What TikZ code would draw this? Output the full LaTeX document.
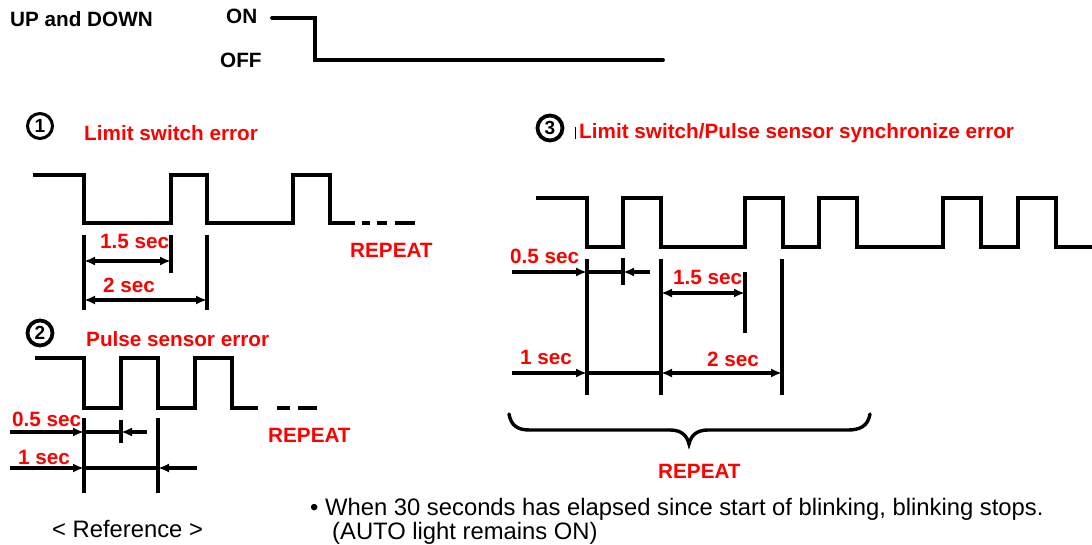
\documentclass[tikz,border=0pt]{standalone}
\usepackage{fontspec}
\setmainfont{Liberation Sans}
\usetikzlibrary{arrows.meta}
\definecolor{errred}{RGB}{255,0,0}
\begin{document}
\begin{tikzpicture}[x=1pt,y=-1pt,
  wave/.style={line width=3.8pt, line join=miter},
  dimline/.style={line width=3.4pt},
  ext/.style={line width=3.8pt},
  tipA/.style={line width=3.4pt, -{Latex[length=11pt,width=9pt]}},
  tipB/.style={line width=3.4pt, {Latex[length=11pt,width=9pt]}-{Latex[length=11pt,width=9pt]}},
  lbl/.style={inner sep=0pt, anchor=base west, font=\fontsize{20.7}{24}\bfseries\selectfont},
  redlbl/.style={lbl, text=errred},
  note/.style={inner sep=0pt, anchor=base west, font=\fontsize{23.8}{28}\selectfont},
  num/.style={circle, draw, line width=3pt, minimum size=25pt, inner sep=0pt, font=\fontsize{19}{19}\bfseries\selectfont}
]
\useasboundingbox (0,0) rectangle (1092,545);

% ---------- top ----------
\node[lbl] (updown) at (10,27) {UP and DOWN};
\node[lbl] (on) at (226,24) {ON};
\node[lbl] (off) at (220,68) {OFF};
\draw[wave, line cap=round] (272,18) -- (315,18) -- (315,60) -- (663,60);

% ---------- 1 ----------
\node[num] (n1) at (40,126) {1};
\node[redlbl] (t1) at (84,141) {Limit switch error};
\draw[wave] (33,175) -- (84,175) -- (84,223) -- (171,223) -- (171,175) -- (207,175)
  -- (207,223) -- (293,223) -- (293,175) -- (330,175) -- (330,223) -- (355,223);
\draw[wave] (362,223) -- (370,223);
\draw[wave] (377,223) -- (387,223);
\draw[wave] (395,223) -- (415,223);
\node[redlbl] (r1) at (350,258) {REPEAT};
\draw[ext] (84,235) -- (84,310);
\draw[ext] (171,235) -- (171,273);
\draw[ext] (207,235) -- (207,310);
\coordinate (a1l) at (84,261); \coordinate (a1r) at (171,261);
\coordinate (b1l) at (84,300); \coordinate (b1r) at (207,300);
\draw[tipB] (a1l) -- (a1r);
\draw[tipB] (b1l) -- (b1r);
\node[redlbl] (s15) at (100,249) {1.5 sec};
\node[redlbl] (s2) at (103,293) {2 sec};

% ---------- 2 ----------
\node[num, line width=3.8pt] (n2) at (40,333) {2};
\node[redlbl] (t2) at (86,346) {Pulse sensor error};
\draw[wave] (35,358) -- (84,358) -- (84,408) -- (121,408) -- (121,358) -- (158,358)
  -- (158,408) -- (195,408) -- (195,358) -- (232,358) -- (232,408) -- (258,408);
\draw[wave] (277,408) -- (290,408);
\draw[wave] (298,408) -- (317,408);
\node[redlbl] (r2) at (268,442) {REPEAT};
\draw[ext] (84,418) -- (84,493);
\draw[ext] (121,420) -- (121,443);
\draw[ext] (158,418) -- (158,493);
\coordinate (c2a) at (10,432); \coordinate (c2b) at (84,432);
\coordinate (c2c) at (121,432); \coordinate (c2d) at (147,432);
\coordinate (d2a) at (10,468); \coordinate (d2b) at (84,468);
\coordinate (d2c) at (158,468); \coordinate (d2d) at (197,468);
\draw[tipA] (c2a) -- (c2b);
\draw[dimline] (c2b) -- (c2c);
\draw[tipA] (c2d) -- (c2c);
\draw[tipA] (d2a) -- (d2b);
\draw[dimline] (d2b) -- (d2c);
\draw[tipA] (d2d) -- (d2c);
\node[redlbl] (s05b) at (12,426) {0.5 sec};
\node[redlbl] (s1b) at (18,464) {1 sec};

% ---------- 3 ----------
\node[num, line width=3.8pt] (n3) at (550,128) {3};
\draw[line width=1pt] (575,127) -- (575,139);
\node[redlbl] (t3) at (579,139) {Limit switch/Pulse sensor synchronize error};
\draw[wave] (536,198) -- (587,198) -- (587,247) -- (623,247) -- (623,198) -- (661,198)
  -- (661,247) -- (745,247) -- (745,198) -- (783,198) -- (783,247) -- (819,247)
  -- (819,198) -- (857,198) -- (857,247) -- (943,247) -- (943,198) -- (981,198)
  -- (981,247) -- (1018,247) -- (1018,198) -- (1056,198) -- (1056,247) -- (1092,247);
\draw[ext] (587,259) -- (587,395);
\draw[ext] (623,258) -- (623,285);
\draw[ext] (661,259) -- (661,395);
\draw[ext] (745,272) -- (745,333);
\draw[ext] (782,259) -- (782,395);
\coordinate (e3a) at (512,272); \coordinate (e3b) at (587,272);
\coordinate (e3c) at (623,272); \coordinate (e3d) at (650,272);
\coordinate (f3a) at (661,293); \coordinate (f3b) at (745,293);
\coordinate (g3a) at (512,373); \coordinate (g3b) at (587,373);
\coordinate (g3c) at (661,373); \coordinate (g3d) at (782,373);
\draw[tipA] (e3a) -- (e3b);
\draw[dimline] (e3b) -- (e3c);
\draw[tipA] (e3d) -- (e3c);
\draw[tipB] (f3a) -- (f3b);
\draw[tipA] (g3a) -- (g3b);
\draw[dimline] (g3b) -- (g3c);
\draw[tipB] (g3c) -- (g3d);
\node[redlbl] (s05c) at (510,264) {0.5 sec};
\node[redlbl] (s15c) at (673,284) {1.5 sec};
\node[redlbl] (s1c) at (520,364) {1 sec};
\node[redlbl] (s2c) at (707,366) {2 sec};
\draw[line width=3.4pt, line cap=round] (509,414) .. controls (511,426) and (518,430) .. (530,430)
  -- (670,430) .. controls (682,430) and (687,436) .. (689,444)
  .. controls (691,436) and (696,430) .. (708,430)
  -- (848,430) .. controls (860,430) and (868,426) .. (870,414);
\node[redlbl] (r3) at (658,478) {REPEAT};

% ---------- notes ----------
\node[note] (ref) at (52,537) {< Reference >};
\node[note] (note1) at (310,515) {• When 30 seconds has elapsed since start of blinking, blinking stops.};
\node[note] (note2) at (332,539) {(AUTO light remains ON)};
\end{tikzpicture}
\end{document}
